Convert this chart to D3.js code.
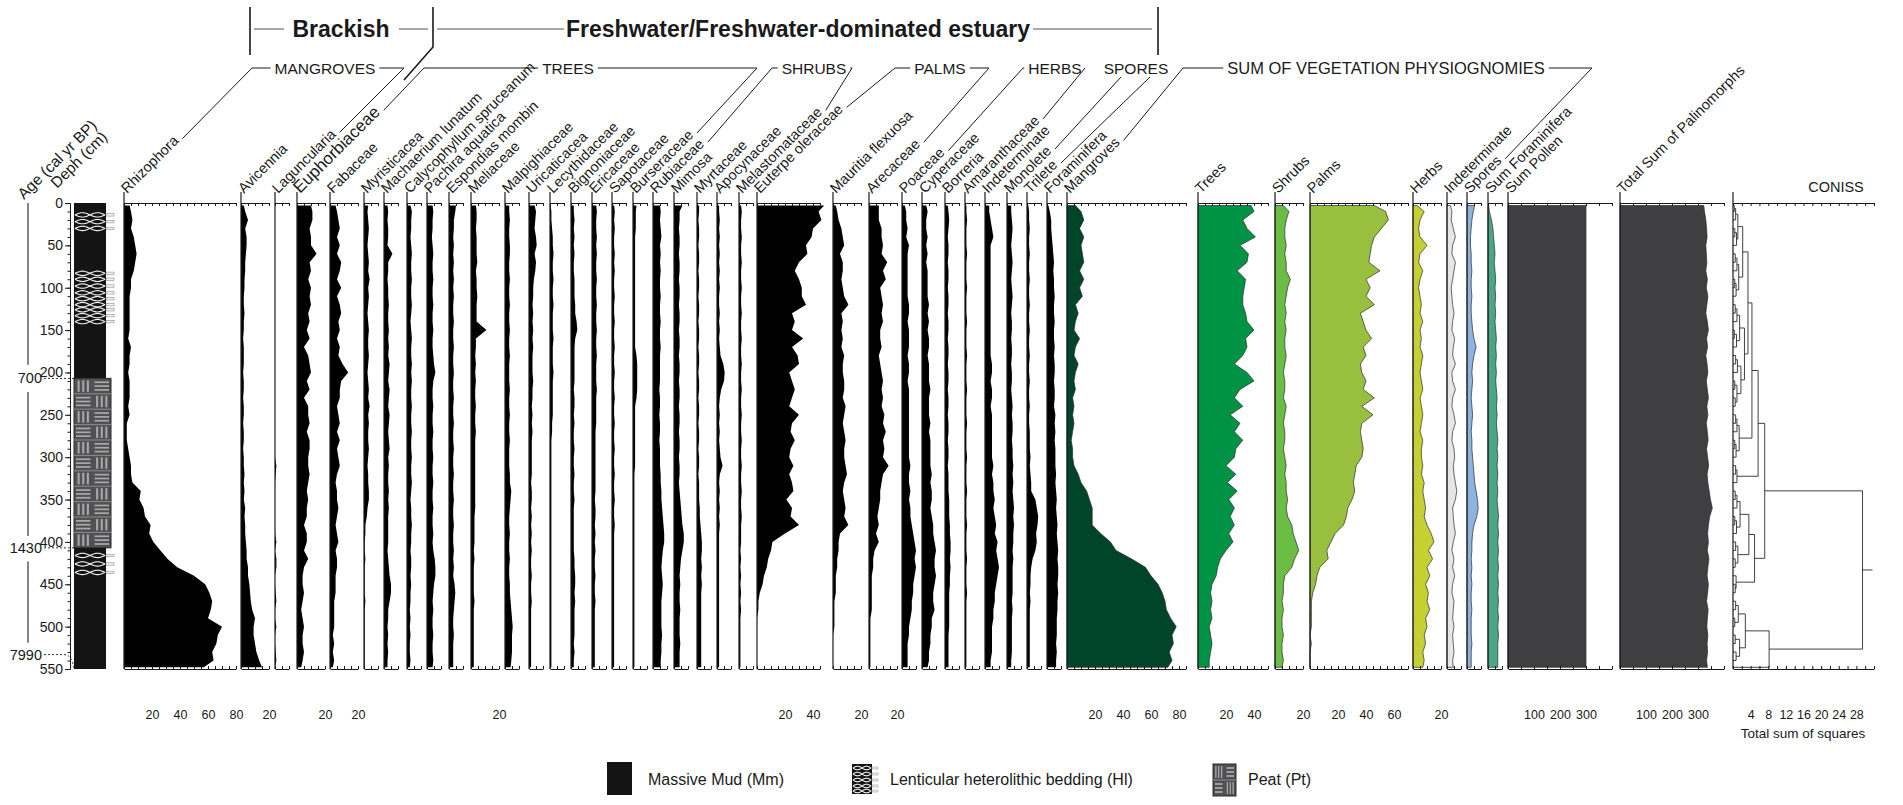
<!DOCTYPE html>
<html><head><meta charset="utf-8">
<script src="https://cdn.jsdelivr.net/npm/d3@7"></script>
<style>
html,body{margin:0;padding:0;background:#fff;}
svg{display:block;}
text{font-family:"Liberation Sans Narrow","Liberation Sans",Arial,sans-serif;fill:#1a1a1a;}
.hdr{font-weight:bold;font-size:23px;}
.grp{font-size:15.5px;}
.tax{font-size:14.5px;}
.tick text{font-size:12.5px;}
.leg{font-size:16px;}
</style></head><body>
<svg id="chart" width="1903" height="805"></svg>
<script>
// ---- sample depths (cm) ----
const depths = [3,10,20,30,40,50,60,70,80,90,100,110,120,130,140,150,160,170,180,190,200,210,220,230,240,250,260,270,280,290,300,310,320,330,340,350,360,370,380,390,400,410,420,430,440,450,460,470,480,490,500,510,520,530,540,548];

// ---- pollen percentages ----
const rhizophora = [4,5,6,5,7,8,9,8,7,5, 5,4,4,4,4,4,3,5,4,4, 3,4,4,4,3,4,2,2,2,3, 4,5,5,6,12,11,14,15,19,18, 21,26,31,38,50,58,61,63,62,60, 70,67,66,63,64,57];
const avicennia = [2,3,5,3,4,4,3.5,3,3,2.5, 2.5,2,2,2.5,2,2,1.5,2,2,2, 1.5,2,2,1.5,2,2,1.5,2,2,1.5, 2,2,2.5,2,2.5,2,3,2.5,3,3, 3.5,4,4,5,5,6,6.5,7,8,10, 9,9,10,11,13,15];
const laguncularia = [0,0,0,0,0,0,0,0,0,0, 0,0,0,0,0,0,0,0,0,0, 0,0,0,0,0,0,0,0,0,0, 0,1,0.5,0,0,0,0,0,0,0, 1,0,1,1,0,0,0.5,1,0,0, 1,0,0,0.5,1,0];
const euphorbiaceae = [10,11,11,9,10,10,14,9,10,8, 10,9,10,8,9,7,9,5,8,9, 10,7,9,5,8,8,9,7,9,9, 8,8,9,8,7,8,7,7,5,7, 7,5,8,5,4,4,5,4,3,4, 5,4,4,5,4,3];
const fabaceae = [4,5,6,7,5,7,5,8,7,5, 8,5,7,8,6,7,5,7,6,9, 13,8,7,7,5,6,7,5,7,5, 6,7,5,4,5,5,6,5,4,5, 6,4,5,5,4,4,4,3,3,3, 3,2,3,2,3,2];
const myristicacea = [3,2.5,3,3.5,3,2.5,3,3.5,3,4, 3,3.5,3,2.5,3,3.5,3,3,3.5,3, 2.5,3,3.5,3,4,3,3.5,3,3,3.5, 3,2.5,3,3,3.5,3.5,2.5,2,1,1, 0.5,0.5,1,0.5,0.5,0.5,0.5,1,0.5,0.5, 0.5,0.5,0.5,0.5,0.5,0.5];
const machaerium = [2.5,3,2.5,3,3,2.5,6,3,3,2.5, 3,3,3.5,3,3,3.5,3,3.5,3,4, 3.5,3,4,3.5,3,4,3.5,3,3.5,4, 3,3.5,3,3,3.5,3,3.5,3,3,3, 3,2.5,3,3.5,4,5,5,4,3,3, 2.5,3,2.5,3,2.5,2.5];
const calycophyllum = [2.5,3.5,3,3,2.5,3,3.5,3,3,3.5, 3,3,3.5,3,2.5,3,3.5,3,3,3.5, 3,3.5,3,3,3.5,3,3,3.5,3,3, 3.5,3,3,3.5,3,2.5,3,3,3.5,3, 3,2.5,3,3,2.5,3,2.5,2.5,2,2.5, 2,2.5,2,2,2.5,2];
const pachira = [4,4.5,4,4,3.5,4,4.5,4,4,4.5, 4,4,4.5,4,4,4.5,4,4,4.5,5, 6,4.5,4,4,4.5,4,4,4.5,4,4, 4.5,4,4,4.5,4,4,4.5,4,4,4.5, 4,4.5,5.5,6,6,5,4.5,4,4.5,4, 4,4.5,4,4,4.5,4];
const espondias = [5,4.5,3.5,3.5,3,3.5,3,3.5,3,3.5, 3,3.5,3,3,3.5,3,3,3.5,3,3, 3.5,3,3,3.5,3,3,3.5,3,3,3.5, 3,3,3.5,3,3,3.5,3,3,3.5,3, 3,3.5,3,3.5,3,4,4.5,4,3.5,3, 3,3.5,3,3,3,3];
const meliaceae = [3.5,4,4,3.5,4,4,4,4.5,3.5,4, 4,4.5,4,4,4,11,3.5,3.5,3,3.5, 3,3.5,3,3,3.5,3,3,3.5,3,3, 3,3,3,3,3,3,3,2.5,2.5,2.5, 2.5,2,2.5,2,2,2,2,2.5,2,2, 2,2,2,2,2,2];
const malpighiaceae = [3,3,3.5,3,3,3.5,3.5,3,3,3.5, 3,3,3.5,3,3,3.5,3,3,3.5,3, 3,3,3.5,3,3,3.5,3,3,3.5,3, 3,3,3.5,3.5,4.5,4,3.5,3,3,3.5, 3,3,3.5,3,3,3.5,3.5,4,4.5,5, 5.5,5,5,5,4.5,4];
const uricaticacea = [4,5,4.5,4,5,5.5,4,5,4.5,3.5, 3,3,2.5,3,2.5,3,2.5,3,2.5,2.5, 2.5,3,2.5,2.5,2,2.5,2,2.5,2,2, 2,2,2,1.5,2,2,1.5,2,1.5,2, 1.5,2,1.5,1.5,2,1.5,1.5,2,1.5,1.5, 1.5,1.5,1.5,1.5,1.5,1.5];
const lecythidaceae = [0.5,1,1,1.5,2,2,2.5,2,2,2.5, 2,2,2.5,2,2,2,2.5,2,2,2, 2.5,2,2,2,2,2,1.5,1.5,1,1, 1,1,1,1,1,1,1,1,1,1, 1,1,1,1,1,1,1,1,1,1, 1,1,1,1,1,1];
const bignoniaceae = [2,2,2.5,2,2.5,2,2.5,2,2,2.5, 2.5,2.5,3,3,4,4.5,3,2.5,2.5,2.5, 2.5,2.5,2,2.5,2.5,2,2.5,2,2,2.5, 2,2,2.5,2,2,2.5,2,2,2,2, 2,2,2.5,2.5,3,3,2.5,3,2.5,2.5, 2.5,2.5,2,2.5,2,2];
const ericaceae = [3,3.5,3,3,3.5,3,3.5,3,3,3.5, 3,3,3.5,3,3,3.5,3,3,3.5,3, 3,3,3.5,3,3,3,3,2.5,2.5,2.5, 2.5,2.5,2.5,2.5,2.5,2,2.5,2.5,2,2.5, 2,2.5,2,2,2.5,2,2,2.5,2,2, 2,2,2,2,2,2];
const sapotaceae = [1.5,2,1.5,2,1.5,1.5,2,1.5,2,1.5, 1.5,2,1.5,1.5,2,1.5,1.5,2,1.5,1.5, 2,1.5,1.5,2,1.5,1.5,2,1.5,1.5,2, 1.5,1.5,2,1.5,1.5,2,1.5,1.5,2,1.5, 1.5,1.5,1.5,1.5,1.5,1.5,1.5,1.5,1.5,1.5, 1.5,1.5,1.5,1.5,1.5,1.5];
const burseraceae = [2.5,2,2,2,1.5,1.5,1.5,1.5,1.5,1.5, 1.5,1.5,1.5,1.5,1.5,1.5,1.5,1.5,2.5,3, 3,3,3,2.5,1.5,1.5,1.5,1.5,1.5,1.5, 1.5,1.5,1,1,1,1,1,1,1,1, 1,1,1,1,1,1,1,1,1,1, 1,1,1,1,1,1];
const rubiaceae = [5,5.5,5,5.5,6,5,5.5,5,5.5,5, 5,5.5,5,5,5.5,5,5,5.5,5,5, 5,5,4.5,5,5,4.5,5,5,4.5,5, 5,5,5.5,5.5,6,6,6.5,7,7.5,8, 8,7,6.5,6,6.5,7,6.5,6,6,6, 6,6.5,6,6,5.5,5.5];
const mimosa = [6,4,4,3.5,4,4,3.5,4,4,3.5, 4,4,3.5,4,4,3.5,4,4,3.5,4, 4,3.5,4,4,3.5,4,4,3.5,4,4, 3.5,4,4,3.5,4,4.5,5,5.5,6,7, 7,6,5,4.5,4,4.5,4,4,4.5,4, 4,4,4.5,4,4,4];
const myrtaceae = [1.5,1.5,1,1.5,1.5,1,1.5,1.5,1,1.5, 1.5,1,1.5,1.5,1,1.5,1.5,1,1.5,1.5, 1,1.5,1.5,1,1.5,1.5,1,1.5,1.5,1, 1.5,1.5,1,1.5,1.5,1.5,2,2,2.5,3, 3.5,3.5,3,3.5,3,3.5,3,3,3,3, 3,3,3,3,3,3];
const apocynaceae = [1.5,1.5,2,1.5,2,1.5,2,1.5,2,1.5, 2,1.5,1.5,2,1.5,2,1.5,2,2.5,4.5, 5.5,5,3,2,1.5,2,1.5,2,1.5,2, 2.5,4,2,1.5,2,1.5,2,1.5,2,1.5, 1.5,1.5,1.5,1.5,1.5,1.5,1.5,1.5,1.5,1.5, 1.5,1.5,1.5,1.5,1.5,1.5];
const melastomataceae = [1.5,2,1.5,1.5,2,1.5,1.5,2,1.5,1.5, 2,1.5,1.5,2,1.5,1.5,2,1.5,1.5,2, 1.5,1.5,2,1.5,1.5,2,1.5,1.5,2,1.5, 1.5,2,1.5,1.5,2,1.5,1.5,2,1.5,1.5, 1.5,1,1.5,1,1.5,1,1.5,1,1.5,1, 1,1,1,1,1,1];
const euterpe = [48,44,46,40,39,35,36,30,27,30, 32,32,35,25,27,25,33,25,29,30, 23,25,27,25,23,30,25,24,27,24, 23,26,23,25,26,21,25,24,30,20, 11,10,8,7,5,4,2,1,1,0, 0,0,0,0,0,0];
const mauritia = [2,3,4,6,7,8,5,7,7,6, 7,8,11,6,7,6,7,6,8,7, 7,8,8,7,9,8,7,8,9,8, 8,9,10,8,7,8,9,8,11,5, 4,4,3,3,2,2,2,1,1,1, 1,0,0,0,0,0];
const arecaceae = [7,7,7,9,9,10,9,13,10,12, 8,9,10,9,10,8,8,9,7,8, 9,10,9,10,9,11,10,12,10,11, 10,14,10,9,8,8,7,6,7,5, 7,4,3,3,2,2,2,2,2,1, 1,1,1,1,1,1];
const poaceae = [2,3,3,4,3,5,4,4,4,4, 4,4,5,5,4,5,5,5,4,5, 5,4,5,5,5,5,5,5,5,5, 5,6,5,5,6,5,6,6,7,8, 9,10,9,10,9,8,8,7,7,6, 5,5,4,4,4,4];
const cyperaceae = [3,4,3,3,4,3,4,3,4,4, 4,4,5,4,5,4,5,5,4,5, 5,5,6,5,5,5,6,5,6,6, 6,6,7,6,7,7,6,7,8,8, 9,10,9,9,10,9,8,8,9,7, 7,6,6,5,5,4];
const borreria = [2,2.5,3,2.5,2,2.5,2.5,2,2.5,2.5, 2,2.5,2.5,2,2.5,2.5,2,2.5,2.5,2, 2.5,2.5,2,2.5,2.5,2,2.5,2.5,2,2.5, 2.5,2,2.5,2.5,2.5,3,3,3,3.5,3.5, 4,4,3.5,4,3.5,3.5,3,3,3,3, 3,2.5,2.5,2.5,2.5,2.5];
const amaranthaceae = [1,1,1.5,1,1,1,1.5,1,1,1, 1.5,1,1,1,1.5,1,1,1,1.5,1, 1,1,1.5,1,1,1,1.5,1,1,1, 1.5,1,1,1,1.5,1,1,1,1.5,1, 1,1,1.5,1,1,1,1.5,1,1,1, 1,1,1,1,1,1];
const indeterminate = [3,3,4,5,6,4,4,4,4,4, 4,4,4,4,4,4,4,4,4,5, 5,4,5,5,4,5,5,5,5,5, 5,6,5,6,6,7,6,7,8,7, 9,8,9,10,9,8,7,7,6,6, 5,5,5,5,4,4];
const monolete = [3,3,3.5,4,3.5,3,3.5,4,3.5,3, 3.5,4,3.5,3,3.5,3.5,3,3.5,3.5,3, 3.5,3.5,3,3.5,4,3.5,4,4,3.5,4, 4,4.5,4,4.5,4,4.5,5,4.5,5,4.5, 4.5,4,4.5,4,4,4,4,3.5,4,3.5, 3.5,3.5,3.5,3.5,3,3];
const trilete = [1,1.5,1.5,2,1.5,1.5,2,1.5,1.5,2, 1.5,1.5,2,1.5,1.5,2,1.5,1.5,2,1.5, 1.5,2,1.5,1.5,2,1.5,1.5,2,2,2, 2.5,2,2.5,3,3,6,7,8,7.5,6.5, 7,6,4,3,2.5,2.5,2,2.5,2,2, 2,2,2,2,2,2];
const foraminifera = [1,2,3,3,3.5,4,4.5,5,4.5,5, 5,5.5,5,5,5.5,5,5,5.5,5,5.5, 5.5,5,5.5,5.5,5,6,5.5,6,5.5,6, 6,6,6.5,6,6.5,7,6.5,7,7.5,7, 7.5,8,7.5,8,8,7.5,8,7.5,7.5,7, 7,7,6.5,7,6.5,6.5];

// ---- sums of vegetation physiognomies (%) ----
const mangroves = [6,10,12,9,12,10,11,12,9,12, 9,11,6,8,6,5,9,6,5,8, 6,5,6,4,5,4,5,4,3,4, 4,5,8,10,14,16,18,18,18,24, 31,35,46,56,60,65,68,70,71,74, 78,75,76,73,75,72];
const trees = [38,40,32,35,41,30,36,35,28,34, 33,32,32,34,35,40,34,35,32,26, 35,40,30,26,32,23,30,26,32,27, 26,20,27,21,28,22,26,23,26,22, 25,20,16,14,13,10,9,10,9,10, 8,9,10,9,8,8];
const shrubs = [6,10,8,7,7,8,7,8,8,11, 9,8,7,8,7,8,7,7,8,7, 6,7,7,6,8,7,6,7,7,6, 7,8,7,8,8,9,8,9,12,13, 15,17,14,12,7,6,6,5,6,5, 5,6,5,5,6,5];
const palms = [46,54,56,51,46,44,43,42,50,40, 43,40,46,36,38,40,44,38,40,36, 37,40,38,46,37,45,37,36,37,38, 37,33,32,31,32,30,27,26,24,18, 15,12,13,7,5,4,2,1,1,1, 1,0,1,0,0,0];
const herbs = [3,8,5,4,5,10,5,4,7,5, 4,5,6,5,7,5,6,5,7,6, 5,6,7,5,6,7,6,5,7,6, 6,7,6,8,7,8,9,8,10,13, 15,11,14,10,12,9,11,10,12,9, 10,8,9,7,8,7];
const indetSum = [2.5,3.5,3,4.5,6,4,3.5,6,5,4, 3,3.5,4,5,4,3.5,5.5,4.5,4,6, 3.5,4,6,4,3.5,5,6,4,3.5,5, 5.5,4.5,5,6,7,6,4,4.5,5,6, 4.5,3.5,5,4,5.5,4,3.5,5,4.5,4, 5,4,4.5,5,4,4.5];
const sporesSum = [5.5,4.5,3.5,3,2.5,2.5,3,3,3.5,3, 3,3.5,3,3,3.5,4,5,6.5,5,4, 3.5,4,3.5,3,3.5,4,3.5,3,3.5,3.5, 4,4.5,5,5.5,6.5,7.5,8,7,5,4, 3.5,3.5,3,3.5,3,3.5,3,3,3.5,3, 3,3,3.5,3,3,3];
const foramSum = [0.5,1,2.5,3.5,4,4.5,5,4.5,5,5.5, 5,5.5,5,5.5,5,5.5,6,5.5,6,5.5, 6,5.5,6,6.5,6,6.5,6,6.5,7,6.5, 7,6.5,7,6.5,7,6.5,7,7.5,7,7.5, 7,7.5,7,7.5,7,7.5,7,7.5,7,7.5, 7,7.5,7,7,7,7];

// ---- counts ----
const sumPollen = [300,300,300,300,300,300,300,300,300,300, 300,300,300,300,300,300,300,300,300,300, 300,300,300,300,300,300,300,300,300,300, 300,300,300,300,300,300,300,300,300,300, 300,300,300,300,300,300,300,300,300,300, 300,300,300,300,300,300];
const totalSum = [322,325,330,333,335,330,332,334,330,336, 332,338,334,330,336,340,333,337,330,335, 338,332,336,340,334,338,332,336,339,333, 337,341,335,338,343,348,355,345,340,337, 340,336,342,338,335,340,337,333,339,336, 334,338,335,337,333,336];

// ---- CONISS: merge height (total sum of squares) at each boundary between adjacent samples ----
const conissSplit = [0.3,0.6,1.1,0.4,0.8,2.2,0.5,0.9,1.3,0.4, 0.7,3.4,0.5,0.9,1.5,0.3,0.8,2.6,0.6,1.0, 1.8,0.4,0.9,0.5,4.3,0.6,0.9,1.4,0.4,0.7, 5.7,0.6,0.9,7.2,0.5,0.9,1.6,0.4,0.8,3.6, 0.6,1.1,0.5,4.9,0.7,0.5,29.4,0.6,1.2,0.4, 2.8,0.5,1.5,0.7,8.2];

// ---- lithology ----
const lithoTop = [0, 207, 407];
const lithoBottom = [207, 407, 550];
const lithoType = ["Mm", "Pt", "Mm"];
const lensDepths = [14,22,30, 83,90,98,106,113,120,126,133,140, 416,426,436];
const ageLabels = ["700", "1430", "7990"];
const ageDepths = [207, 407, 533];
const depthTicks = [0,50,100,150,200,250,300,350,400,450,500,550];

// ---- layout ----
const svg = d3.select("#chart");
const TOP = 203, BOT = 669, PCT = 1.4;
const y = d3.scaleLinear().domain([0, 550]).range([TOP, BOT]);
const INK = "#1a1a1a";

const panels = [
  {name:"Rhizophora", v:rhizophora, x0:124, max:80, labels:[20,40,60,80]},
  {name:"Avicennia", v:avicennia, x0:241, max:20, labels:[20]},
  {name:"Laguncularia", v:laguncularia, x0:275, max:10},
  {name:"Euphorbiaceae", v:euphorbiaceae, x0:297, max:20, labels:[20], big:true},
  {name:"Fabaceae", v:fabaceae, x0:330, max:20, labels:[20]},
  {name:"Myristicacea", v:myristicacea, x0:364, max:10},
  {name:"Machaerium lunatum", v:machaerium, x0:384, max:10},
  {name:"Calycophyllum spruceanum", v:calycophyllum, x0:407, max:10},
  {name:"Pachira aquatica", v:pachira, x0:427, max:10},
  {name:"Espondias mombin", v:espondias, x0:449, max:10},
  {name:"Meliaceae", v:meliaceae, x0:471, max:20, labels:[20]},
  {name:"Malpighiaceae", v:malpighiaceae, x0:505, max:10},
  {name:"Uricaticacea", v:uricaticacea, x0:529, max:10},
  {name:"Lecythidaceae", v:lecythidaceae, x0:550, max:10},
  {name:"Bignoniaceae", v:bignoniaceae, x0:571, max:10},
  {name:"Ericaceae", v:ericaceae, x0:592, max:10},
  {name:"Sapotaceae", v:sapotaceae, x0:612, max:10},
  {name:"Burseraceae", v:burseraceae, x0:633, max:10},
  {name:"Rubiaceae", v:rubiaceae, x0:653, max:10},
  {name:"Mimosa", v:mimosa, x0:674, max:10},
  {name:"Myrtaceae", v:myrtaceae, x0:697, max:10},
  {name:"Apocynaceae", v:apocynaceae, x0:717, max:10},
  {name:"Melastomataceae", v:melastomataceae, x0:739, max:10},
  {name:"Euterpe oleraceae", v:euterpe, x0:757, max:45, labels:[20,40]},
  {name:"Mauritia flexuosa", v:mauritia, x0:833, max:20, labels:[20]},
  {name:"Arecaceae", v:arecaceae, x0:869, max:20, labels:[20]},
  {name:"Poaceae", v:poaceae, x0:902, max:10},
  {name:"Cyperaceae", v:cyperaceae, x0:922, max:10},
  {name:"Borreria", v:borreria, x0:945, max:10},
  {name:"Amaranthaceae", v:amaranthaceae, x0:965, max:10},
  {name:"Indeterminate", v:indeterminate, x0:985, max:10},
  {name:"Monolete", v:monolete, x0:1007, max:10},
  {name:"Trilete", v:trilete, x0:1027, max:10},
  {name:"Foraminifera", v:foraminifera, x0:1047, max:10},
  {name:"Mangroves", v:mangroves, x0:1067, max:85, labels:[20,40,60,80], fill:"#00452a"},
  {name:"Trees", v:trees, x0:1198, max:50, labels:[20,40], fill:"#009245"},
  {name:"Shrubs", v:shrubs, x0:1275, max:20, labels:[20], fill:"#6abd45"},
  {name:"Palms", v:palms, x0:1310, max:70, labels:[20,40,60], fill:"#98bf3d"},
  {name:"Herbs", v:herbs, x0:1413, max:20, labels:[20], fill:"#c5d032"},
  {name:"Indeterminate", v:indetSum, x0:1447, max:10, fill:"#e6e6e6"},
  {name:"Spores", v:sporesSum, x0:1467, max:10, fill:"#8db3df"},
  {name:"Sum Foraminifera", v:foramSum, x0:1488, max:10, fill:"#4aa589"},
  {name:"Sum Pollen", v:sumPollen, x0:1508, max:400, ppu:0.26, step:50, labels:[100,200,300], fill:"#3f3f41"},
  {name:"Total Sum of Palinomorphs", v:totalSum, x0:1620, max:400, ppu:0.26, step:50, labels:[100,200,300], fill:"#3f3f41"}
];

const groups = [
  {name:"MANGROVES", cx:325, left:252, right:404, from:0, to:2},
  {name:"TREES", cx:568, left:424, right:757, from:3, to:17},
  {name:"SHRUBS", cx:814, left:772, right:852, from:18, to:22},
  {name:"PALMS", cx:940, left:895, right:989, from:23, to:25},
  {name:"HERBS", cx:1055, left:1023, right:1085, from:26, to:29},
  {name:"SPORES", cx:1136, left:1121, right:1150, from:31, to:32, under:true},
  {name:"SUM OF VEGETATION PHYSIOGNOMIES", cx:1386, left:1183, right:1592, from:34, to:40, size:16.5}
];

function cleanAxis(g) {
  g.attr("font-family", null).attr("font-size", null).attr("color", INK);
  g.selectAll("path,line").attr("stroke-width", 1);
}

// ---- taxon panels ----
const labelEnds = [];
panels.forEach((p, i) => {
  const ppu = p.ppu || PCT;
  const x = d3.scaleLinear().domain([0, p.max]).range([p.x0, p.x0 + p.max * ppu]);
  const g = svg.append("g");
  const area = d3.area()
    .y((d, j) => y(depths[j]))
    .x0(x(0))
    .x1(d => x(d));
  g.append("path").datum(p.v).attr("d", area)
    .attr("fill", p.fill || "#000")
    .attr("stroke", p.fill ? "#2b2b2b" : "none")
    .attr("stroke-width", 0.7);
  const ticks = d3.range(0, p.max + 1e-6, p.step || 5);
  const labs = p.labels || [];
  g.append("g").attr("transform", `translate(0,${TOP})`)
    .call(d3.axisTop(x).tickValues(ticks).tickSize(-3).tickSizeOuter(0).tickFormat(""))
    .call(cleanAxis);
  g.append("g").attr("transform", `translate(0,${BOT})`)
    .call(d3.axisBottom(x).tickValues(ticks).tickSize(-3).tickSizeOuter(0).tickPadding(41)
      .tickFormat(d => labs.includes(d) ? d : ""))
    .call(cleanAxis);
  g.append("line").attr("x1", x(0)).attr("x2", x(0)).attr("y1", TOP - 11).attr("y2", BOT)
    .attr("stroke", INK).attr("stroke-width", 1.2);
  // rotated taxon name
  const ax = p.x0 + 3, ay = TOP - 9;
  const t = svg.append("text").attr("class", "tax")
    .attr("transform", `translate(${ax},${ay}) rotate(-45)`)
    .style("font-size", p.big ? "17px" : null)
    .text(p.name);
  const L = t.node().getComputedTextLength() + 4;
  labelEnds[i] = [ax + L * Math.SQRT1_2, ay - L * Math.SQRT1_2];
});

// ---- group labels and leaders ----
groups.forEach(gr => {
  const yc = 68;
  const t = svg.append("text").attr("class", "grp").attr("x", gr.cx).attr("y", yc + 5.5)
    .attr("text-anchor", "middle").style("font-size", gr.size ? gr.size + "px" : null).text(gr.name);
  const w = t.node().getComputedTextLength();
  const a = labelEnds[gr.from], b = labelEnds[gr.to];
  let pl, pr;
  if (gr.under) {
    pl = `M${gr.left},${yc + 9}L${a[0]},${a[1]}`;
    pr = `M${gr.right},${yc + 9}L${b[0]},${b[1]}`;
  } else {
    const el = gr.cx - w / 2 - 4, er = gr.cx + w / 2 + 4;
    pl = `M${Math.max(el, gr.left)},${yc}H${gr.left}L${a[0]},${a[1]}`;
    pr = `M${Math.min(er, gr.right)},${yc}H${gr.right}L${b[0]},${b[1]}`;
  }
  svg.append("path").attr("d", pl + pr).attr("fill", "none").attr("stroke", INK).attr("stroke-width", 1);
});

// ---- environment header ----
const hdr = svg.append("g");
hdr.append("path").attr("d", "M250,7V55M433,7V47L404,80M1158,7V55")
  .attr("fill", "none").attr("stroke", INK).attr("stroke-width", 1.6);
hdr.append("path").attr("d", "M254,29H284M399,29H428M437,29H564M1033,29H1152")
  .attr("fill", "none").attr("stroke", "#8a8a8a").attr("stroke-width", 1.4);
hdr.append("text").attr("class", "hdr").attr("x", 341).attr("y", 37).attr("text-anchor", "middle").text("Brackish");
hdr.append("text").attr("class", "hdr").attr("x", 798).attr("y", 37).attr("text-anchor", "middle")
  .text("Freshwater/Freshwater-dominated estuary");

// ---- depth axis ----
const depthAxisX = 70;
svg.append("g").attr("transform", `translate(${depthAxisX},0)`)
  .call(d3.axisLeft(y).tickValues(d3.range(0, 551, 10)).tickSize(2.5).tickSizeOuter(0).tickFormat(""))
  .call(cleanAxis);
svg.append("g").attr("transform", `translate(${depthAxisX},0)`)
  .call(d3.axisLeft(y).tickValues(depthTicks).tickSize(5).tickSizeOuter(0).tickPadding(2))
  .call(cleanAxis)
  .selectAll("text").style("font-size", "14px");

svg.append("text").attr("class", "tax").attr("transform", `translate(24,200) rotate(-45)`).style("font-size", "15.5px").text("Age (cal yr BP)");
svg.append("text").attr("class", "tax").attr("transform", `translate(57,189) rotate(-45)`).style("font-size", "15.5px").text("Deph (cm)");

// ---- age scale ----
const ageX = 28;
const ageSegs = [[0, ageDepths[0] - 16]];
for (let i = 0; i < ageDepths.length - 1; i++) ageSegs.push([ageDepths[i] + 16, ageDepths[i + 1] - 14]);
ageSegs.forEach(s => svg.append("line").attr("x1", ageX).attr("x2", ageX).attr("y1", y(s[0])).attr("y2", y(s[1]))
  .attr("stroke", "#333").attr("stroke-width", 1.2));
ageLabels.forEach((lab, i) => {
  const yy = y(ageDepths[i]);
  svg.append("text").attr("x", 42).attr("y", yy + 5).attr("text-anchor", "end").style("font-size", "14.5px").text(lab);
  const last = i === ageLabels.length - 1;
  svg.append("path")
    .attr("d", last ? `M44,${yy}H64Q72,${yy} 74,${BOT}` : `M44,${yy}H74`)
    .attr("fill", "none").attr("stroke", "#333").attr("stroke-width", 1).attr("stroke-dasharray", "2,2");
});

// ---- lithology column ----
const colL = 74, colR = 106, peatR = 111;
function drawPeat(g, x0, x1, y0, y1, rows) {
  g.append("rect").attr("x", x0).attr("y", y0).attr("width", x1 - x0).attr("height", y1 - y0)
    .attr("fill", "#515153").attr("stroke", "#2a2a2a").attr("stroke-width", 1);
  const rh = (y1 - y0) / rows, cw = (x1 - x0) / 2;
  for (let r = 0; r < rows; r++) {
    for (let c = 0; c < 2; c++) {
      const cx0 = x0 + c * cw, cy0 = y0 + r * rh;
      const vertical = (r + c) % 2 === 0;
      for (let s = 1; s <= 3; s++) {
        if (vertical) {
          const xx = cx0 + s * cw / 4;
          g.append("line").attr("x1", xx).attr("x2", xx).attr("y1", cy0 + 2).attr("y2", cy0 + rh - 2)
            .attr("stroke", "#a9a9a9").attr("stroke-width", Math.max(1.2, cw / 9));
        } else {
          const yy = cy0 + s * rh / 4;
          g.append("line").attr("x1", cx0 + 2).attr("x2", cx0 + cw - 2).attr("y1", yy).attr("y2", yy)
            .attr("stroke", "#a9a9a9").attr("stroke-width", Math.max(1.2, rh / 9));
        }
      }
    }
    if (r > 0) g.append("line").attr("x1", x0).attr("x2", x1).attr("y1", y0 + r * rh).attr("y2", y0 + r * rh)
      .attr("stroke", "#8d8d8d").attr("stroke-width", 1);
  }
}
// elongated lens outlines: two opposite-phase waves across the column
function lensPath(x0, x1, yy, amp, phase) {
  const pts = d3.range(x0, x1 + 0.01, 1).map(xx => [xx, yy + phase * amp * Math.sin((xx - x0) / (x1 - x0) * Math.PI * 2)]);
  return d3.line().curve(d3.curveBasis)(pts);
}
const litho = svg.append("g");
lithoType.forEach((tp, i) => {
  const y0 = y(lithoTop[i]), y1 = y(lithoBottom[i]);
  if (tp === "Pt") drawPeat(litho, colL, peatR, y0, y1, 11);
  else litho.append("rect").attr("x", colL).attr("y", y0).attr("width", colR - colL).attr("height", y1 - y0).attr("fill", "#141414");
});
lensDepths.forEach(dp => {
  const yy = y(dp);
  litho.append("path").attr("d", lensPath(colL + 1, colR - 1, yy, 2.2, 1)).attr("fill", "none").attr("stroke", "#f2f2f2").attr("stroke-width", 1.1);
  litho.append("path").attr("d", lensPath(colL + 1, colR - 1, yy, 2.2, -1)).attr("fill", "none").attr("stroke", "#f2f2f2").attr("stroke-width", 1.1);
  litho.append("rect").attr("x", colR).attr("y", yy - 1.2).attr("width", 8).attr("height", 2.4)
    .attr("fill", "#f4f4f4").attr("stroke", "#8a8a8a").attr("stroke-width", 0.6);
});

// ---- CONISS dendrogram ----
const cx = d3.scaleLinear().domain([0, 32]).range([1733, 1874]);
const dg = svg.append("g").attr("fill", "none").attr("stroke", "#2b2b2b").attr("stroke-width", 0.9);
function tree(a, b) {
  if (a === b) return {y: y(depths[a]), h: 0};
  let k = a + 1;
  for (let j = a + 2; j <= b; j++) if (conissSplit[j - 1] > conissSplit[k - 1]) k = j;
  const L = tree(a, k - 1), R = tree(k, b), h = conissSplit[k - 1];
  dg.append("path").attr("d", `M${cx(L.h)},${L.y}H${cx(h)}V${R.y}H${cx(R.h)}`);
  return {y: (L.y + R.y) / 2, h};
}
const root = tree(0, depths.length - 1);
dg.append("path").attr("d", `M${cx(root.h)},${root.y}H${cx(root.h) + 10}`);
svg.append("line").attr("x1", cx(0)).attr("x2", cx(0)).attr("y1", TOP - 11).attr("y2", BOT).attr("stroke", INK).attr("stroke-width", 1.2);
svg.append("g").attr("transform", `translate(0,${TOP})`)
  .call(d3.axisTop(cx).tickValues(d3.range(0, 33, 2)).tickSize(-3).tickSizeOuter(0).tickFormat(""))
  .call(cleanAxis);
svg.append("g").attr("transform", `translate(0,${BOT})`)
  .call(d3.axisBottom(cx).tickValues(d3.range(0, 33, 2)).tickSize(-3).tickSizeOuter(0).tickPadding(41)
    .tickFormat(d => (d > 0 && d <= 28 && d % 4 === 0) ? d : ""))
  .call(cleanAxis);
svg.append("text").attr("x", 1836).attr("y", 192).attr("text-anchor", "middle").style("font-size", "14.5px").text("CONISS");
svg.append("text").attr("x", 1803).attr("y", 738).attr("text-anchor", "middle").style("font-size", "13.5px").text("Total sum of squares");

// ---- legend ----
const lg = svg.append("g");
lg.append("rect").attr("x", 607).attr("y", 762).attr("width", 25).attr("height", 33).attr("fill", "#141414");
lg.append("text").attr("class", "leg").attr("x", 648).attr("y", 785).text("Massive Mud (Mm)");
lg.append("rect").attr("x", 852).attr("y", 764).attr("width", 20).attr("height", 30).attr("fill", "#141414");
[768, 774, 780, 786, 791].forEach(yy => {
  lg.append("path").attr("d", lensPath(853, 871, yy, 1.8, 1)).attr("fill", "none").attr("stroke", "#f2f2f2").attr("stroke-width", 1.1);
  lg.append("path").attr("d", lensPath(853, 871, yy, 1.8, -1)).attr("fill", "none").attr("stroke", "#f2f2f2").attr("stroke-width", 1.1);
  lg.append("rect").attr("x", 872).attr("y", yy - 1).attr("width", 6).attr("height", 2).attr("fill", "#f4f4f4").attr("stroke", "#8a8a8a").attr("stroke-width", 0.5);
});
lg.append("text").attr("class", "leg").attr("x", 890).attr("y", 785).text("Lenticular heterolithic bedding (Hl)");
drawPeat(lg, 1213, 1236, 764, 796, 2);
lg.append("text").attr("class", "leg").attr("x", 1248).attr("y", 785).text("Peat (Pt)");
</script>
</body></html>
